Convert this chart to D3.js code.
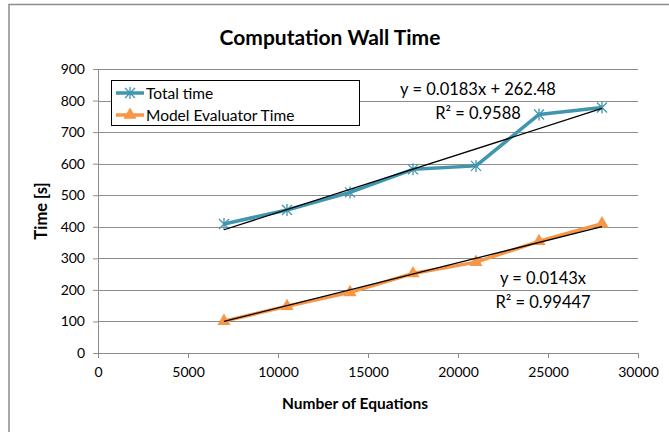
<!DOCTYPE html>
<html>
  <head>
    <meta charset=utf-8>
    <title>Computation Wall Time</title>
    <style>
      body{ margin:0; background:#fff; }
      text{ font-family: Lato, "Open Sans", sans-serif; fill:#000; }
      .grid line{ stroke:#8c8c8c; stroke-width:1; }
      .axis path, .axis line{ stroke:#8c8c8c; stroke-width:1; }
      .axis text{ font-size:14px; }
    </style>
  </head>
  <body>
    <script src="https://d3js.org/d3.v7.min.js"></script>
    <script>
      // data
      var equations = [7000, 10500, 14000, 17500, 21000, 24500, 28000];
      var totalTime = [409, 453, 509, 582, 593, 756, 778];
      var modelTime = [101, 148, 192, 252, 288, 354, 410];
      var xTicks = [0, 5000, 10000, 15000, 20000, 25000, 30000];
      var yTicks = [0, 100, 200, 300, 400, 500, 600, 700, 800, 900];
      var seriesNames = ["Total time", "Model Evaluator Time"];
      var trendTotal = {slope: 0.0183, icpt: 262.48, eq: "y = 0.0183x + 262.48", r2: "R\u00b2 = 0.9588"};
      var trendModel = {slope: 0.0143, icpt: 0, eq: "y = 0.0143x", r2: "R\u00b2 = 0.99447"};

      var width = 669, height = 432;
      var margin = {top: 69, right: 31, bottom: 79, left: 98},
          mWidth = width - margin.left - margin.right,
          mHeight = height - margin.top - margin.bottom;

      var teal = "#3f96ae", orange = "#f79646";

      var svg = d3.select("body").append("svg")
        .attr("width", width)
        .attr("height", height);

      // outer chart frame
      svg.append("rect")
        .attr("x", 9).attr("y", 4.5)
        .attr("width", width + 10).attr("height", height + 10)
        .style("fill", "none").style("stroke", "#8c8c8c").style("stroke-width", 1.5);

      var g = svg.append("g").attr("transform", "translate(" + margin.left + "," + margin.top + ")");

      var x = d3.scaleLinear().domain([0, 30000]).range([0, mWidth]);
      var y = d3.scaleLinear().domain([0, 900]).range([mHeight, 0]);

      g.append("g").attr("class", "grid")
        .selectAll("line").data(yTicks.slice(1)).enter().append("line")
          .attr("x1", 0).attr("x2", mWidth)
          .attr("y1", function(d) { return Math.round(y(d)) + 0.5; })
          .attr("y2", function(d) { return Math.round(y(d)) + 0.5; });

      var yAxis = d3.axisLeft(y).tickValues(yTicks).tickSize(5).tickPadding(8).tickSizeOuter(0);
      g.append("g").attr("class", "axis").call(yAxis)
        .call(function(a) { a.selectAll("text").attr("fill", "#000"); });

      var xAxis = d3.axisBottom(x).tickValues(xTicks).tickFormat(d3.format("d")).tickSize(5).tickPadding(9).tickSizeOuter(0);
      g.append("g").attr("class", "axis").attr("transform", "translate(0," + mHeight + ")").call(xAxis)
        .call(function(a) { a.selectAll("text").attr("fill", "#000"); });

      var line = d3.line()
        .x(function(d) { return x(d[0]); })
        .y(function(d) { return y(d[1]); });

      var totalPts = d3.zip(equations, totalTime);
      var modelPts = d3.zip(equations, modelTime);

      g.append("path").datum(totalPts).attr("d", line)
        .style("fill", "none").style("stroke", teal).style("stroke-width", 3.5).style("stroke-linejoin", "round");
      g.append("path").datum(modelPts).attr("d", line)
        .style("fill", "none").style("stroke", orange).style("stroke-width", 3.5).style("stroke-linejoin", "round");

      var starSym = function(sel) {
        sel.append("path")
          .attr("d", "M-5,-5L5,5M-5,5L5,-5M0,-6L0,6")
          .style("stroke", teal).style("stroke-width", 1.3).style("fill", "none");
      };
      var triSym = d3.symbol().type(d3.symbolTriangle).size(75);

      g.selectAll(".star").data(totalPts).enter().append("g")
        .attr("transform", function(d) { return "translate(" + x(d[0]) + "," + y(d[1]) + ")"; })
        .call(starSym);

      g.selectAll(".tri").data(modelPts).enter().append("path")
        .attr("d", triSym)
        .attr("transform", function(d) { return "translate(" + x(d[0]) + "," + y(d[1]) + ")"; })
        .style("fill", orange);

      // linear trendlines
      [trendTotal, trendModel].forEach(function(t) {
        var x0 = d3.min(equations), x1 = d3.max(equations);
        g.append("line")
          .attr("x1", x(x0)).attr("y1", y(t.slope * x0 + t.icpt))
          .attr("x2", x(x1)).attr("y2", y(t.slope * x1 + t.icpt))
          .style("stroke", "#000").style("stroke-width", 1.3);
      });

      // trendline labels
      svg.append("text").attr("x", 478).attr("y", 95).attr("text-anchor", "middle")
        .style("font-size", "16.5px").text(trendTotal.eq);
      svg.append("text").attr("x", 478).attr("y", 119).attr("text-anchor", "middle")
        .style("font-size", "16.5px").text(trendTotal.r2);
      svg.append("text").attr("x", 543).attr("y", 284).attr("text-anchor", "middle")
        .style("font-size", "16.5px").text(trendModel.eq);
      svg.append("text").attr("x", 543).attr("y", 308).attr("text-anchor", "middle")
        .style("font-size", "16.5px").text(trendModel.r2);

      // legend
      var legend = svg.append("g");
      legend.append("rect")
        .attr("x", 111.5).attr("y", 80.5).attr("width", 248).attr("height", 45)
        .style("fill", "#fff").style("stroke", "#000").style("stroke-width", 1);
      var colors = [teal, orange];
      seriesNames.forEach(function(name, i) {
        var ly = 93 + i * 22;
        legend.append("line")
          .attr("x1", 116).attr("x2", 144).attr("y1", ly).attr("y2", ly)
          .style("stroke", colors[i]).style("stroke-width", 3.5);
        if (i === 0) {
          legend.append("g").attr("transform", "translate(130," + ly + ")").call(starSym);
        } else {
          legend.append("path").attr("d", triSym)
            .attr("transform", "translate(130," + ly + ")").style("fill", orange);
        }
        legend.append("text").attr("x", 146).attr("y", ly + 5.5)
          .style("font-size", "15.5px").text(name);
      });

      // titles
      svg.append("text").attr("x", 330).attr("y", 45).attr("text-anchor", "middle")
        .style("font-size", "21px").style("font-weight", "bold").text("Computation Wall Time");
      svg.append("text").attr("x", 355).attr("y", 409).attr("text-anchor", "middle")
        .style("font-size", "15.5px").style("font-weight", "bold").text("Number of Equations");
      svg.append("text").attr("text-anchor", "middle")
        .attr("transform", "translate(47,211)rotate(-90)")
        .style("font-size", "16.5px").style("font-weight", "bold").text("Time [s]");
    </script>
  </body>
</html>
